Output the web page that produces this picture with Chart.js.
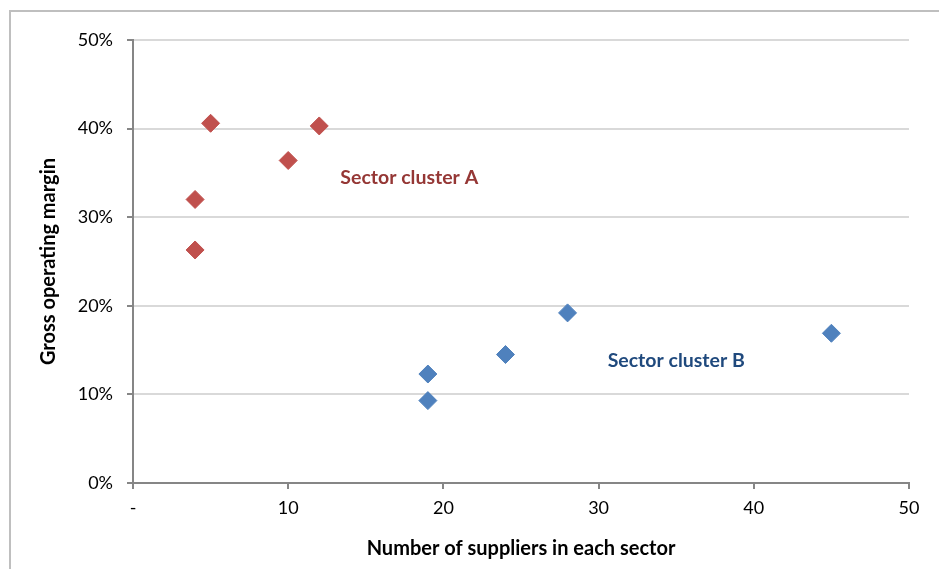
<!DOCTYPE html>
<html>
<head>
<meta charset="utf-8">
<script src="https://cdn.jsdelivr.net/npm/chart.js@4"></script>
<style>
  html, body { margin: 0; padding: 0; background: #fff; overflow: hidden; }
  #frame { position: absolute; left: 9px; top: 10px; width: 1000px; height: 600px;
           border-left: 2px solid #BFBFBF; border-top: 2px solid #BFBFBF; box-sizing: border-box; }
  #wrap { position: absolute; left: 0; top: 0; width: 939px; height: 569px; }
</style>
</head>
<body>
<div id="frame"></div>
<div id="wrap"><canvas id="chart"></canvas></div>
<script>
// cluster A (high margin, few suppliers)
const clusterA_x = [4, 4, 5, 10, 12];
const clusterA_y = [0.263, 0.320, 0.406, 0.364, 0.403];
// cluster B
const clusterB_x = [19, 19, 24, 28, 45];
const clusterB_y = [0.123, 0.093, 0.145, 0.192, 0.169];

const xTicks = [0, 10, 20, 30, 40, 50];
const yTicks = [0, 0.1, 0.2, 0.3, 0.4, 0.5];

const labels = [
  { text: 'Sector cluster A', x: 17.8, y: 0.344, color: '#953735' },
  { text: 'Sector cluster B', x: 35.0, y: 0.138, color: '#1F497D' }
];

const FONT = 'Lato, "Liberation Sans", sans-serif';

const toPoints = (xs, ys) => xs.map((x, i) => ({ x: x, y: ys[i] }));

// draws the cluster captions at data coordinates
const clusterLabels = {
  id: 'clusterLabels',
  afterDatasetsDraw(chart) {
    const ctx = chart.ctx;
    const sx = chart.scales.x, sy = chart.scales.y;
    ctx.save();
    ctx.font = 'bold 19.5px ' + FONT;
    ctx.textAlign = 'center';
    ctx.textBaseline = 'middle';
    labels.forEach(l => {
      ctx.fillStyle = l.color;
      ctx.fillText(l.text, sx.getPixelForValue(l.x), sy.getPixelForValue(l.y));
    });
    ctx.restore();
  }
};

new Chart(document.getElementById('chart'), {
  type: 'scatter',
  data: {
    datasets: [
      {
        label: 'Sector cluster A',
        data: toPoints(clusterA_x, clusterA_y),
        backgroundColor: '#C0504D',
        borderColor: '#C0504D',
        pointStyle: 'rectRot',
        pointRadius: 9,
        pointHoverRadius: 9
      },
      {
        label: 'Sector cluster B',
        data: toPoints(clusterB_x, clusterB_y),
        backgroundColor: '#4F81BD',
        borderColor: '#4F81BD',
        pointStyle: 'rectRot',
        pointRadius: 9,
        pointHoverRadius: 9
      }
    ]
  },
  options: {
    responsive: true,
    maintainAspectRatio: false,
    animation: false,
    layout: { padding: { left: 37, right: 30, top: 40, bottom: 8 } },
    plugins: {
      legend: { display: false },
      tooltip: { enabled: false }
    },
    scales: {
      x: {
        type: 'linear',
        min: 0,
        max: 50,
        afterBuildTicks: s => { s.ticks = xTicks.map(v => ({ value: v })); },
        afterFit: s => { s.height = 569 - 483 - 8; },
        ticks: {
          color: '#000',
          font: { family: FONT, size: 18 },
          padding: 8,
          maxRotation: 0,
          callback: v => v === 0 ? '-' : v
        },
        grid: { drawOnChartArea: false, drawTicks: true, tickLength: 6, color: '#868686', lineWidth: 2 },
        border: { color: '#868686', width: 2 },
        title: {
          display: true,
          text: 'Number of suppliers in each sector',
          color: '#000',
          font: { family: FONT, size: 20, weight: 'bold' },
          padding: { top: 14, bottom: 0 }
        }
      },
      y: {
        min: 0,
        max: 0.5,
        afterBuildTicks: s => { s.ticks = yTicks.map(v => ({ value: v })); },
        afterFit: s => { s.width = 133 - 37; },
        ticks: {
          color: '#000',
          font: { family: FONT, size: 18 },
          padding: 14,
          callback: v => Math.round(v * 100) + '%'
        },
        grid: { color: '#D9D9D9', lineWidth: 2, tickLength: 6, tickColor: '#868686', tickWidth: 2 },
        border: { color: '#868686', width: 2 },
        title: {
          display: true,
          text: 'Gross operating margin',
          color: '#000',
          font: { family: FONT, size: 20, weight: 'bold' },
          padding: { top: 0, bottom: 0 }
        }
      }
    }
  },
  plugins: [clusterLabels]
});
</script>
</body>
</html>
